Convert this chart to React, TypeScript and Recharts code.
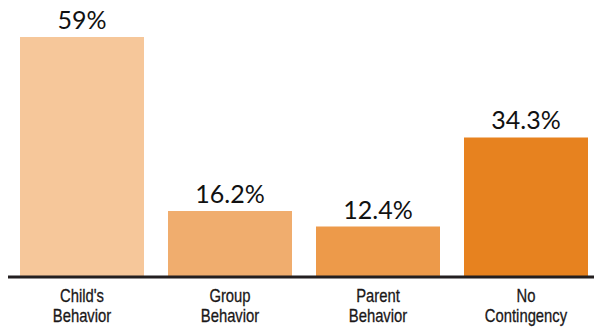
import { BarChart, Bar, XAxis, YAxis, Cell, LabelList } from 'recharts';

const categories = ["Child's|Behavior", 'Group|Behavior', 'Parent|Behavior', 'No|Contingency'];
const percents = [59, 16.2, 12.4, 34.3];
const barColors = ['#F6C79A', '#F0AD6E', '#ED9A4A', '#E7821F'];

const data = categories.map((name, i) => ({ name, value: percents[i] }));

// narrow sans look: regular sans squeezed horizontally
function TwoLineTick({ x, y, payload }: any) {
  const lines = String(payload.value).split('|');
  return (
    <g transform={`translate(${x},${y}) scale(0.8,1)`}>
      <text
        x={0}
        y={0}
        textAnchor="middle"
        fill="#1A1718"
        stroke="#1A1718"
        strokeWidth={0.3}
        fontFamily='"Liberation Sans", Arial, sans-serif'
        fontSize={18.5}
      >
        {lines.map((line, i) => (
          <tspan key={i} x={0} dy={i === 0 ? 17 : 20}>
            {line}
          </tspan>
        ))}
      </text>
    </g>
  );
}

export default function App() {
  return (
    <div style={{ position: 'absolute', left: 0, top: 0, width: 594, height: 331, background: '#fff' }}>
      <BarChart
        width={594}
        height={331}
        data={data}
        margin={{ top: 37, right: -6, bottom: 0, left: 8 }}
        barSize={124}
      >
        <XAxis
          dataKey="name"
          axisLine={{ stroke: '#231F20', strokeWidth: 3 }}
          tickLine={false}
          height={54}
          interval={0}
          tick={<TwoLineTick />}
        />
        <YAxis hide domain={[0, 59]} />
        <Bar dataKey="value" isAnimationActive={false}>
          {data.map((_, i) => (
            <Cell key={`c-${i}`} fill={barColors[i]} />
          ))}
          <LabelList
            dataKey="value"
            position="top"
            offset={8}
            formatter={(v: any) => `${v}%`}
            fill="#111"
            fontSize={25}
            fontFamily="Lato, sans-serif"
          />
        </Bar>
      </BarChart>
    </div>
  );
}
